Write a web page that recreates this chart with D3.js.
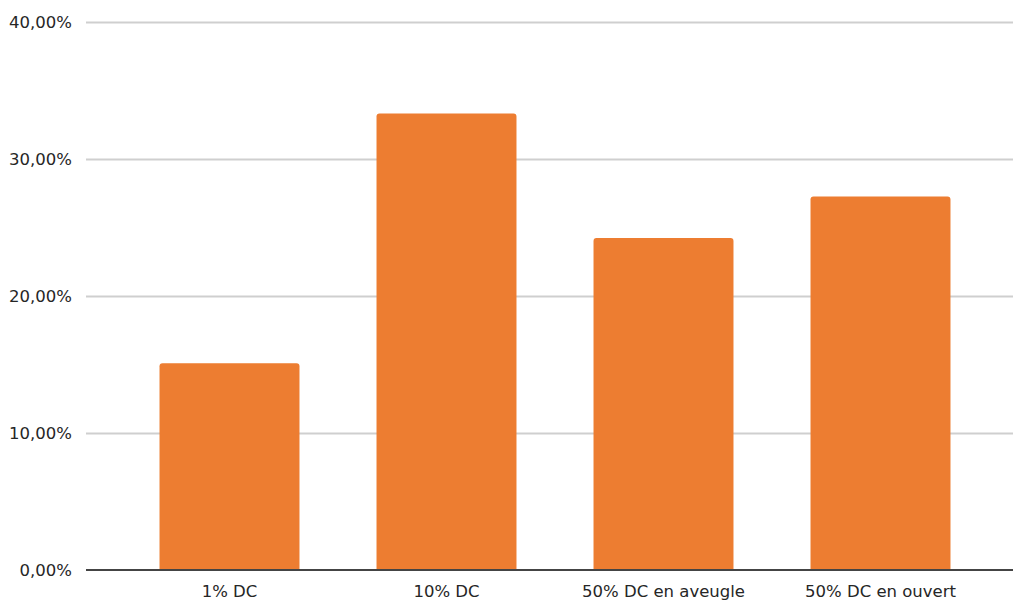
<!DOCTYPE html>
<html><head><meta charset="utf-8">
<script src="https://cdn.jsdelivr.net/npm/d3@7"></script>
<style>body{margin:0;background:#fff}svg{display:block}text{font-family:"DejaVu Sans",sans-serif}</style>
</head><body>
<svg id="c" width="1013" height="602"></svg>
<script>
const categories = ["1% DC", "10% DC", "50% DC en aveugle", "50% DC en ouvert"];
const values = [0.1509, 0.3333, 0.2424, 0.2727];
const yTicks = [0, 0.1, 0.2, 0.3, 0.4];

const svg = d3.select("#c");
const x = d3.scaleBand().domain(categories).range([121, 989]).paddingInner(0.355).paddingOuter(0.1775);
const y = d3.scaleLinear().domain([0, 0.4]).range([570, 22]);
const fmt = v => (v * 100).toFixed(2).replace(".", ",") + "%";

// gridlines
const yAxis = d3.axisLeft(y).tickValues(yTicks).tickFormat(fmt).tickSize(-(1013 - 86)).tickPadding(14);
const gy = svg.append("g").attr("transform", "translate(86,0)").call(yAxis);
gy.select(".domain").remove();
gy.selectAll(".tick line").attr("stroke", "#cfcfcf").attr("stroke-width", 2);
gy.selectAll(".tick text").attr("fill", "#262626").style("font-size", "16.5px").attr("dy", "0.35em");
gy.selectAll(".tick").filter(d => d === 0).select("line").remove();

// bars with rounded tops
const r = 3;
svg.append("g").selectAll("path").data(values).join("path")
  .attr("fill", "#ed7d31")
  .attr("d", (v, i) => {
    const x0 = x(categories[i]), w = x.bandwidth(), y0 = y(v), yb = y(0);
    return `M${x0},${yb}V${y0 + r}Q${x0},${y0} ${x0 + r},${y0}H${x0 + w - r}Q${x0 + w},${y0} ${x0 + w},${y0 + r}V${yb}Z`;
  });

// baseline
svg.append("line").attr("x1", 86).attr("x2", 1013).attr("y1", y(0)).attr("y2", y(0))
  .attr("stroke", "#444").attr("stroke-width", 2);

// x axis labels
const xAxis = d3.axisBottom(x).tickSize(0).tickPadding(15);
const gx = svg.append("g").attr("transform", `translate(0,${y(0)})`).call(xAxis);
gx.select(".domain").remove();
gx.selectAll(".tick text").attr("fill", "#262626").style("font-size", "16.5px");
</script>
</body></html>
